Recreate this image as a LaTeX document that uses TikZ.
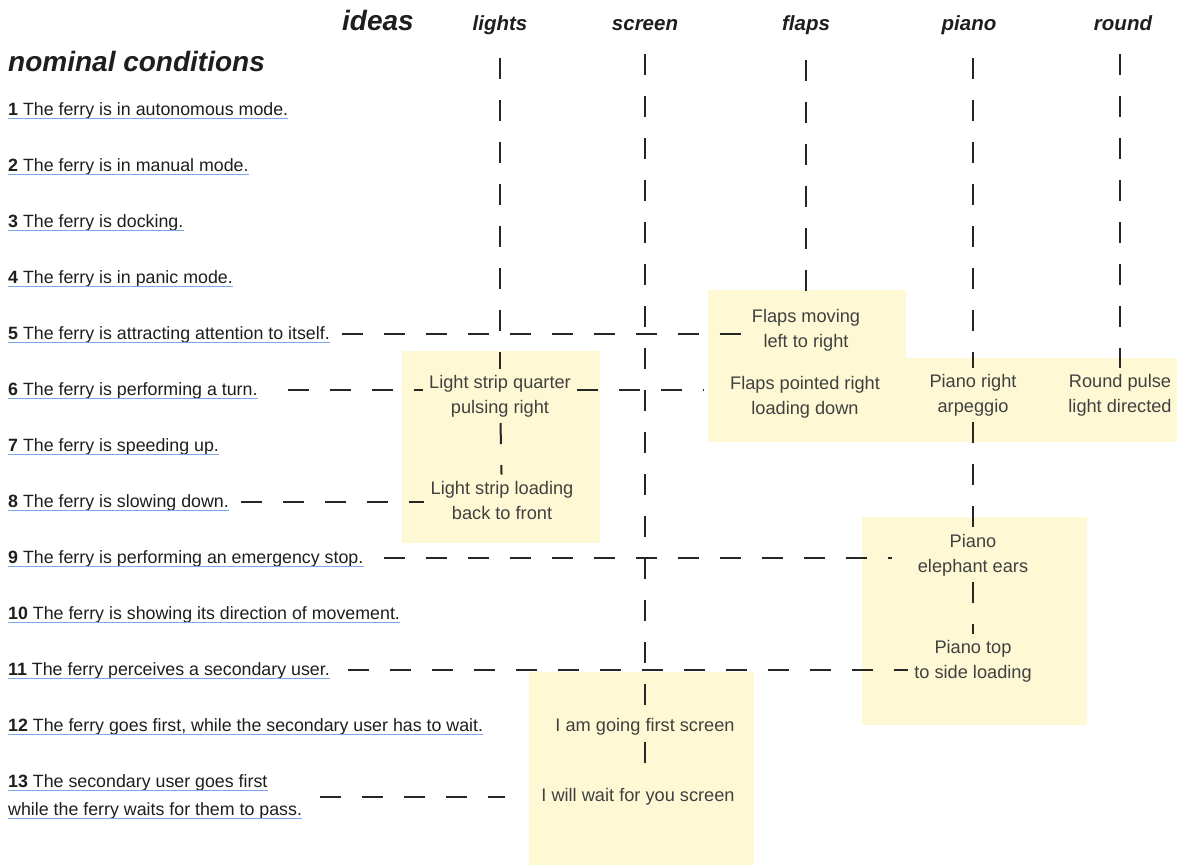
\documentclass[tikz,border=0pt]{standalone}
\usepackage{fontspec}
\setmainfont{Liberation Sans}
\usetikzlibrary{calc}

\definecolor{sticky}{HTML}{FEF9D4}
\definecolor{ulblue}{HTML}{7EA4EE}
\definecolor{ink}{HTML}{1E1E1E}

\begin{document}
\begin{tikzpicture}[x=1pt, y=-1pt,
    cond/.style={anchor=base west, inner sep=0pt, text=ink, font=\fontsize{17.8}{20}\selectfont},
    head/.style={anchor=base, inner sep=0pt, text=ink, font=\fontsize{20.5}{24}\selectfont\bfseries\itshape},
    big/.style={head, font=\fontsize{28}{32}\selectfont\bfseries\itshape},
    idea/.style={align=center, inner sep=6pt, text=black!75, font=\fontsize{18.2}{25}\selectfont},
    link/.style={line width=2pt, dash pattern=on 21pt off 21pt, black!85},
    uline/.style={draw=ulblue, line width=0.8pt}]
    \useasboundingbox (0,0) rectangle (1177,865);

    \fill[sticky] (402,351) rectangle (600,543); \fill[sticky] (708,290) rectangle (906,442);
    \fill[sticky] (906,358) rectangle (1177,442); \fill[sticky] (862,517) rectangle (1087,725);
    \fill[sticky] (529,672) rectangle (754,865);

    \node[big] (ideas) at (378,30) {ideas};
    \node[big, anchor=base west] (nominal) at (8,71) {nominal conditions};
    \foreach \n/\x in {lights/500, screen/645, flaps/806, piano/969, round/1123}
        \node[head] (h-\n) at (\x,30) {\n};

    \foreach \i/\txt in {1/The ferry is in autonomous mode., 2/The ferry is in manual mode.,
        3/The ferry is docking., 4/The ferry is in panic mode.,
        5/The ferry is attracting attention to itself., 6/The ferry is performing a turn.,
        7/The ferry is speeding up., 8/The ferry is slowing down.,
        9/The ferry is performing an emergency stop., 10/The ferry is showing its direction of movement.,
        11/The ferry perceives a secondary user., 12/{The ferry goes first, while the secondary user has to wait.}} {
        \node[cond] (c\i) at (8,{59+56*\i}) {\textbf{\i} \txt};
        \draw[uline] ($(c\i.base west)+(0,3)$) -- ($(c\i.base east)+(0,3)$);
    }
    \node[cond] (c13) at (8,787) {\textbf{13} The secondary user goes first};
    \node[cond] (c13b) at (8,815) {while the ferry waits for them to pass.};
    \foreach \c in {c13,c13b} \draw[uline] ($(\c.base west)+(0,3)$) -- ($(\c.base east)+(0,3)$);

    \node[idea] (l1) at (500,396) {Light strip quarter\\pulsing right};
    \node[idea] (l2) at (502,500) {Light strip loading\\back to front};
    \node[idea] (f1) at (806,330) {Flaps moving\\left to right};
    \node[idea] (f2) at (805,397) {Flaps pointed right\\loading down};
    \node[idea] (p1) at (973,395) {Piano right\\arpeggio};
    \node[idea] (r1) at (1120,395) {Round pulse\\light directed};
    \node[idea] (p2) at (973,555) {Piano\\elephant ears};
    \node[idea] (p3) at (973,661) {Piano top\\to side loading};
    \node[idea] (s1) at (645,727) {I am going first screen};
    \node[idea] (s2) at (638,797) {I will wait for you screen};

    \draw[link, shorten <=24pt] (h-lights) -- (l1); \draw[link] (l1) -- (l2);
    \draw[link, shorten <=24pt] (h-screen) -- (s1); \draw[link] (s1.south) -- (s1.south |- s2.north);
    \draw[link, shorten <=26pt] (h-flaps) -- (f1);
    \draw[link, shorten <=24pt] (h-piano.south -| p1.north) -- (p1.north);
    \draw[link] (p1) -- (p2); \draw[link] (p2) -- (p3);
    \draw[link, shorten <=24pt] (h-round.south -| r1.north) -- (r1.north);

    \draw[link, shorten <=12pt] (c5.east) -- (c5.east -| f1.west);
    \draw[link, shorten <=30pt] (c6.east) -- (c6.east -| l1.west);
    \draw[link, shorten >=20pt] (c6.east -| l1.east) -- (c6.east -| f2.west);
    \draw[link, shorten <=12pt] (c8.east) -- (c8.east -| l2.west);
    \draw[link, shorten <=20pt, shorten >=20pt] (c9.east) -- (c9.east -| p2.west);
    \draw[link, shorten <=18pt] (c11.east) -- (c11.east -| p3.west);
    \draw[link, shorten <=18pt, shorten >=30pt] (c13b.east |- s2.west) -- (s2.west);
\end{tikzpicture}
\end{document}
